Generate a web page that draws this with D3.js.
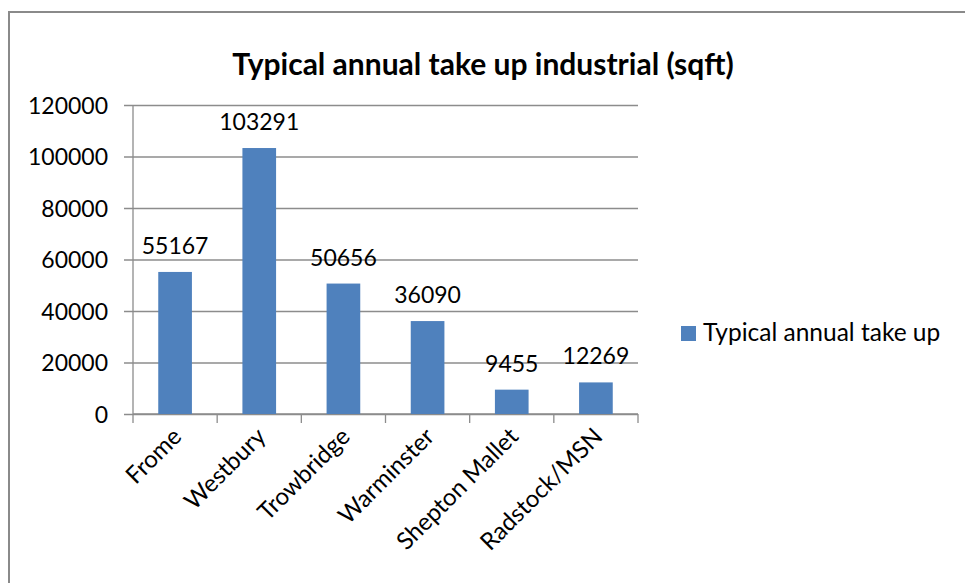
<!DOCTYPE html>
<html>
<head>
<meta charset="utf-8">
<script src="https://cdn.jsdelivr.net/npm/d3@7/dist/d3.min.js"></script>
<style>
  html, body { margin: 0; padding: 0; background: #fff; }
  svg { display: block; }
  text { font-family: Lato, "Open Sans", sans-serif; fill: #000; }
</style>
</head>
<body>
<svg id="chart" width="965" height="583"></svg>
<script>
// Typical annual take up of industrial floorspace, by town
const categories = ["Frome", "Westbury", "Trowbridge", "Warminster", "Shepton Mallet", "Radstock/MSN"];
const takeUp = [55167, 103291, 50656, 36090, 9455, 12269];
const yTicks = [0, 20000, 40000, 60000, 80000, 100000, 120000];
const chartTitle = "Typical annual take up industrial (sqft)";
const seriesName = "Typical annual take up";

const svg = d3.select("#chart");

// outer chart frame (continues past the right and bottom edges)
svg.append("rect")
  .attr("x", 9).attr("y", 12)
  .attr("width", 1000).attr("height", 1000)
  .attr("fill", "#fff")
  .attr("stroke", "#8a8a8a")
  .attr("stroke-width", 2);

const plot = { left: 133, right: 638, top: 105, bottom: 414 };

const x = d3.scaleBand()
  .domain(categories)
  .range([plot.left, plot.right])
  .paddingInner(0.6)
  .paddingOuter(0.3);

const y = d3.scaleLinear()
  .domain([0, 120000])
  .range([plot.bottom, plot.top]);

// title
svg.append("text")
  .attr("x", 483).attr("y", 75)
  .attr("text-anchor", "middle")
  .style("font-weight", "bold")
  .style("font-size", "30px")
  .text(chartTitle);

// horizontal gridlines + y axis
const yAxis = d3.axisLeft(y)
  .tickValues(yTicks)
  .tickSize(-(plot.right - plot.left))
  .tickPadding(25)
  .tickFormat(d3.format("d"));

const gy = svg.append("g")
  .attr("transform", `translate(${plot.left},0)`)
  .call(yAxis);
gy.select(".domain").remove();
gy.selectAll(".tick line")
  .attr("x1", -9)
  .attr("stroke", "#8c8c8c")
  .attr("stroke-width", 1.3);
gy.selectAll(".tick text")
  .style("font-size", "23px")
  .attr("dy", "0.36em");

// vertical axis line
svg.append("line")
  .attr("x1", plot.left).attr("x2", plot.left)
  .attr("y1", plot.top).attr("y2", plot.bottom)
  .attr("stroke", "#8c8c8c")
  .attr("stroke-width", 1.3);

// x axis with category boundary ticks
const boundaries = d3.range(categories.length + 1).map(i => plot.left + i * (plot.right - plot.left) / categories.length);
const gx = svg.append("g");
gx.append("line")
  .attr("x1", plot.left).attr("x2", plot.right)
  .attr("y1", plot.bottom).attr("y2", plot.bottom)
  .attr("stroke", "#8c8c8c")
  .attr("stroke-width", 1.3);
gx.selectAll("line.btick")
  .data(boundaries)
  .join("line")
  .attr("class", "btick")
  .attr("x1", d => d).attr("x2", d => d)
  .attr("y1", plot.bottom).attr("y2", plot.bottom + 9)
  .attr("stroke", "#8c8c8c")
  .attr("stroke-width", 1.3);

// bars
svg.append("g")
  .selectAll("rect")
  .data(categories)
  .join("rect")
  .attr("x", (d) => x(d))
  .attr("width", x.bandwidth())
  .attr("y", (d, i) => y(takeUp[i]))
  .attr("height", (d, i) => y(0) - y(takeUp[i]))
  .attr("fill", "#4f81bd");

// value labels above bars
svg.append("g")
  .selectAll("text")
  .data(categories)
  .join("text")
  .attr("x", d => x(d) + x.bandwidth() / 2)
  .attr("y", (d, i) => y(takeUp[i]) - 18)
  .attr("text-anchor", "middle")
  .style("font-size", "23px")
  .text((d, i) => takeUp[i]);

// rotated category labels
svg.append("g")
  .selectAll("text")
  .data(categories)
  .join("text")
  .attr("text-anchor", "end")
  .attr("transform", d => `translate(${x(d) + x.bandwidth() / 2 + 8},${plot.bottom + 24}) rotate(-45)`)
  .style("font-size", "24px")
  .text(d => d);

// legend
const lg = svg.append("g").attr("transform", "translate(681,326)");
lg.append("rect")
  .attr("width", 15).attr("height", 15)
  .attr("fill", "#4f81bd");
lg.append("text")
  .attr("x", 22).attr("y", 15)
  .style("font-size", "24.5px")
  .text(seriesName);
</script>
</body>
</html>
